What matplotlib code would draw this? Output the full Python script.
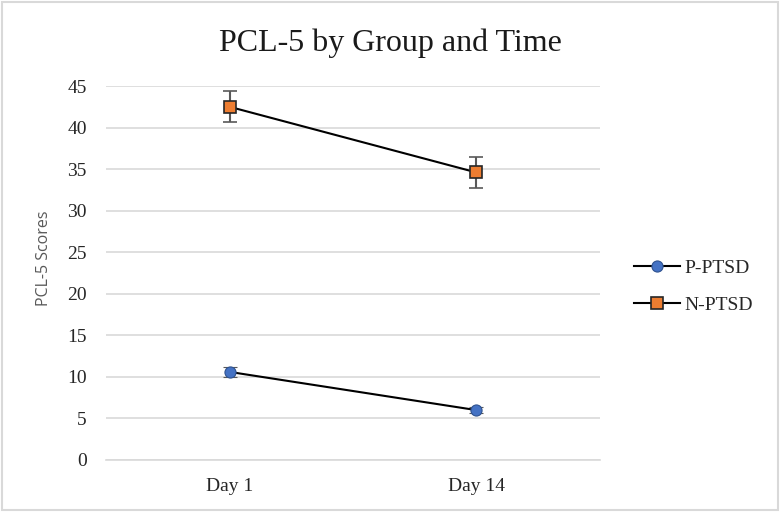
import matplotlib
matplotlib.use("Agg")
import matplotlib.pyplot as plt
from matplotlib.patches import Rectangle
from matplotlib.lines import Line2D

days = ["Day 1", "Day 14"]
p_ptsd = [10.6, 6.0]
p_err = [0.6, 0.4]
n_ptsd = [42.5, 34.6]
n_err = [1.85, 1.9]
yticks = [0, 5, 10, 15, 20, 25, 30, 35, 40, 45]

fig = plt.figure(figsize=(7.8, 5.12), dpi=100)
fig.patches.append(Rectangle((0.002, 0.003), 0.995, 0.994, transform=fig.transFigure,
                             fill=False, edgecolor="#d9d9d9", linewidth=1.5))
ax = fig.add_axes([0.136, 0.1016, 0.633, 0.7304])

x = list(range(len(days)))
p_style = dict(color="black", lw=1.5, marker="o", ms=8, mfc="#4472c4", mec="#2f528f", mew=0.8)
n_style = dict(color="black", lw=1.5, marker="s", ms=9, mfc="#ed7d31", mec="#262626", mew=1.2)
ax.errorbar(x, p_ptsd, yerr=p_err, ecolor="#595959", elinewidth=1.5,
            capsize=5, capthick=1.5, zorder=3, **p_style)
ax.errorbar(x, n_ptsd, yerr=n_err, ecolor="#595959", elinewidth=1.5,
            capsize=5, capthick=1.5, zorder=3, **n_style)

ax.set_xlim(-0.5, 1.5)
ax.set_ylim(0, 45)
ax.set_yticks(yticks)
ax.set_xticks(x)
ax.set_xticklabels(days)
ax.grid(axis="y", color="#d9d9d9", lw=1.2)
ax.set_axisbelow(True)
for s in ["top", "right", "left"]:
    ax.spines[s].set_visible(False)
ax.spines["bottom"].set_color("#d9d9d9")
ax.spines["bottom"].set_linewidth(1.2)
ax.tick_params(axis="y", length=0, labelsize=14, labelcolor="#262626", pad=14)
ax.tick_params(axis="x", length=0, labelsize=14, labelcolor="#262626", pad=13)
for lab in ax.get_xticklabels() + ax.get_yticklabels():
    lab.set_family("Liberation Serif")
ax.set_ylabel("PCL-5 Scores", family="Open Sans", fontsize=11.5, color="#595959")
ax.yaxis.set_label_coords(-0.110, 0.54)

fig.text(0.5, 0.915, "PCL-5 by Group and Time", family="Liberation Serif", fontsize=23,
         color="#1a1a1a", ha="center", va="center")

handles = [Line2D([], [], **p_style), Line2D([], [], **n_style)]
leg = fig.legend(handles, ["P-PTSD", "N-PTSD"], loc="center left",
                 bbox_to_anchor=(0.80, 0.44), frameon=False,
                 prop={"family": "Liberation Serif", "size": 14}, handlelength=2.4,
                 labelspacing=1.0, handletextpad=0.2, borderpad=0)
for t in leg.get_texts():
    t.set_color("#262626")

fig.savefig("out.png", dpi=100)
